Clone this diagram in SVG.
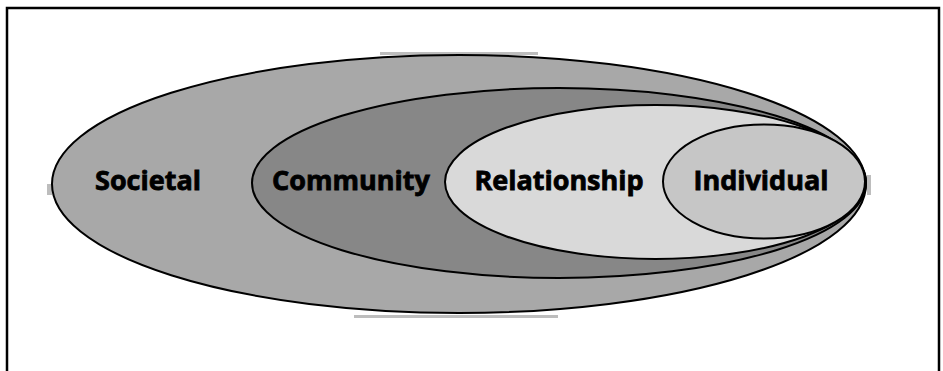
<svg xmlns="http://www.w3.org/2000/svg" width="943" height="371" viewBox="0 0 943 371">
<style>
.ring{stroke:#000;stroke-width:2}
.lbl{font-family:"Open Sans","Liberation Sans",sans-serif;font-weight:bold;font-size:27px;fill:#000;stroke:#000;stroke-width:0.8;text-anchor:middle}
.scan{fill:#bdbdbd}
</style>
<rect width="943" height="371" fill="#fff"/>
<path d="M7,371 V8 H939 V371" fill="none" stroke="#000" stroke-width="2.5"/>
<rect class="scan" x="380" y="52" width="158" height="3"/>
<rect class="scan" x="354" y="315" width="204" height="3"/>
<rect class="scan" x="47" y="184" width="5" height="11"/>
<rect class="scan" x="867" y="175" width="4" height="20"/>
<g id="societal">
<ellipse class="ring" cx="459" cy="184" rx="407" ry="129" fill="#a8a8a8"/>
<text class="lbl" x="148" y="190">Societal</text>
</g>
<g id="community">
<ellipse class="ring" cx="559" cy="183" rx="307" ry="95" fill="#878787"/>
<text class="lbl" x="351" y="190">Community</text>
</g>
<g id="relationship">
<ellipse class="ring" cx="655.5" cy="182" rx="210.5" ry="77" fill="#d9d9d9"/>
<text class="lbl" x="559" y="190">Relationship</text>
</g>
<g id="individual">
<ellipse class="ring" cx="764" cy="181.5" rx="101" ry="57" fill="#c6c6c6"/>
<text class="lbl" x="761" y="190">Individual</text>
</g>
<g id="connectors"></g>
</svg>
